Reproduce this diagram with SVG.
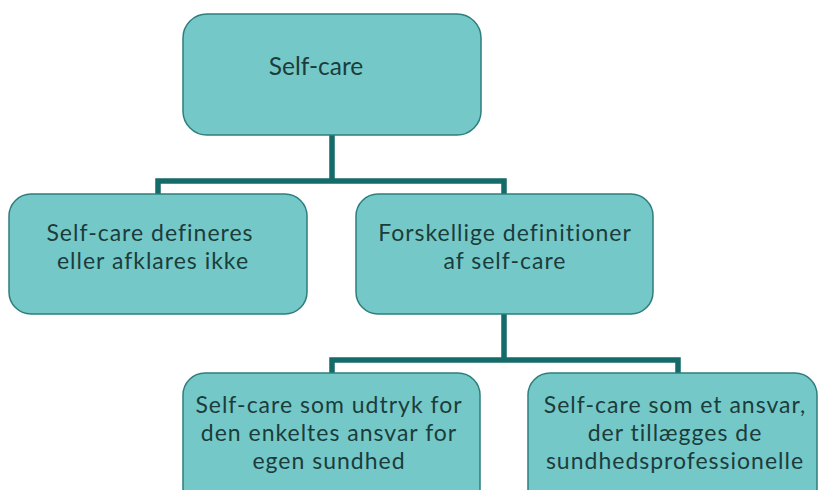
<svg xmlns="http://www.w3.org/2000/svg" width="819" height="490" viewBox="0 0 819 490">
<style>
.box{fill:#74C9C8;stroke:#2E7E7D;stroke-width:1.5}
.lbl{font-family:Lato,"Open Sans","Liberation Sans",sans-serif;font-size:23px;letter-spacing:1px;fill:#1C3C3C;text-anchor:middle}
.conn{fill:none;stroke:#156B6A;stroke-width:5.5;stroke-linejoin:miter}
</style>
<rect width="819" height="490" fill="#ffffff"/>
<g id="connectors">
<path class="conn" d="M332,135 V181 M158,194 V181 H504 V194"/>
<path class="conn" d="M504,314 V360 M332,373 V360 H678 V373"/>
</g>
<g id="n-top">
<rect class="box" x="183" y="14" width="298" height="121" rx="24"/>
<text class="lbl" x="316" y="75" style="font-size:24.5px;letter-spacing:0">Self-care</text>
</g>
<g id="n-left">
<rect class="box" x="9" y="194" width="298" height="120" rx="22"/>
<text class="lbl" y="241"><tspan x="150">Self-care defineres</tspan><tspan x="153" dy="28">eller afklares ikke</tspan></text>
</g>
<g id="n-right">
<rect class="box" x="356" y="194" width="297" height="120" rx="22"/>
<text class="lbl" y="241"><tspan x="505">Forskellige definitioner</tspan><tspan x="505" dy="28">af self-care</tspan></text>
</g>
<g id="n-bl">
<rect class="box" x="183" y="373" width="297" height="140" rx="22"/>
<text class="lbl" y="413"><tspan x="329">Self-care som udtryk for</tspan><tspan x="329" dy="28">den enkeltes ansvar for</tspan><tspan x="329" dy="28">egen sundhed</tspan></text>
</g>
<g id="n-br">
<rect class="box" x="528" y="373" width="289" height="140" rx="22"/>
<text class="lbl" y="413"><tspan x="675">Self-care som et ansvar,</tspan><tspan x="675" dy="28">der tillægges de</tspan><tspan x="675" dy="28">sundhedsprofessionelle</tspan></text>
</g>
</svg>
